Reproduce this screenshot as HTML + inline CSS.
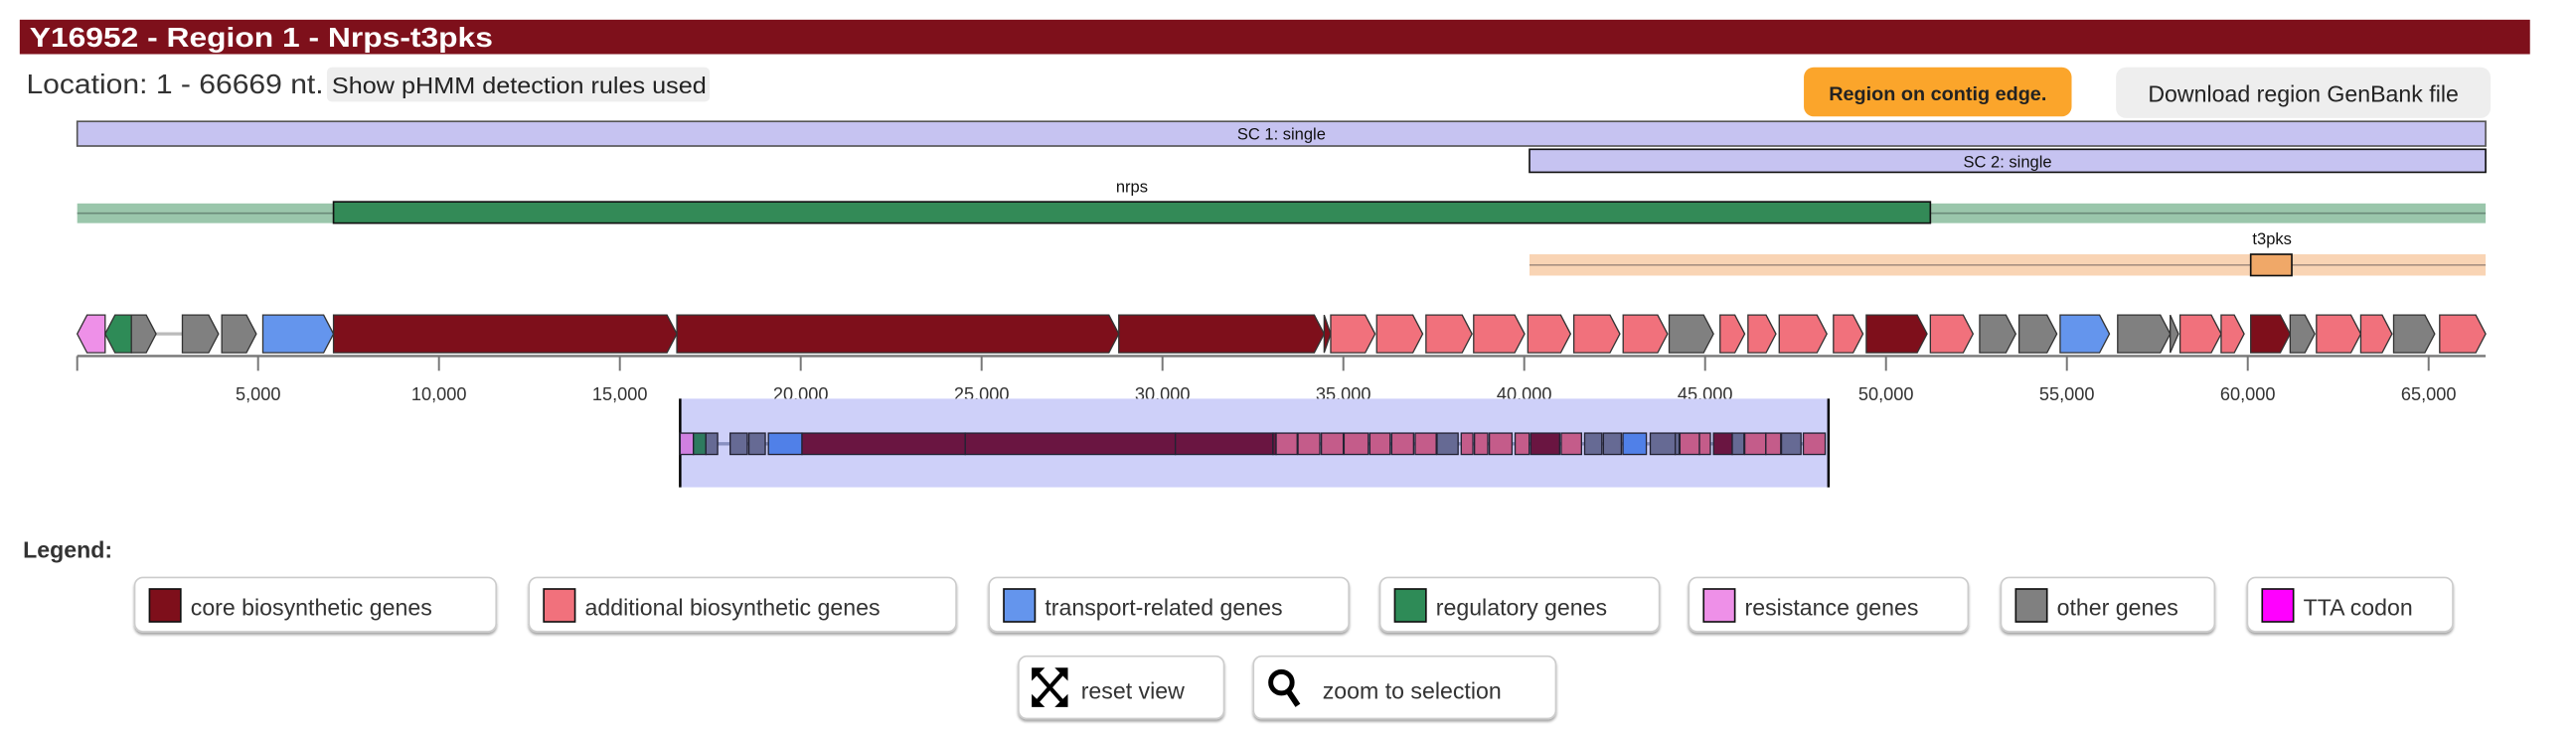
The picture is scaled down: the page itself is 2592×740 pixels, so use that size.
<!DOCTYPE html>
<html><head><meta charset="utf-8"><style>
html,body{margin:0;padding:0;background:#fff;}
svg{display:block;font-family:"Liberation Sans",sans-serif;}
</style></head><body>
<svg width="2592" height="740" viewBox="0 0 1568 448" preserveAspectRatio="none" xmlns="http://www.w3.org/2000/svg">
<defs>
<filter id="sh" x="-5%" y="-10%" width="110%" height="130%"><feDropShadow dx="0" dy="1.5" stdDeviation="0.8" flood-color="#000" flood-opacity="0.35"/></filter>
</defs>
<rect x="12" y="12" width="1528" height="21" fill="#7e101b"/>
<text x="18" y="28.5" font-size="17" font-weight="bold" fill="#fff" textLength="282" lengthAdjust="spacingAndGlyphs">Y16952 - Region 1 - Nrps-t3pks</text>
<text x="16" y="57" font-size="17" fill="#333" textLength="181" lengthAdjust="spacingAndGlyphs">Location: 1 - 66669 nt.</text>
<rect x="199" y="41" width="233" height="21" rx="3" fill="#eeeeee"/>
<text x="202" y="57" font-size="14" fill="#222" textLength="228" lengthAdjust="spacingAndGlyphs">Show pHMM detection rules used</text>
<rect x="1098" y="41" width="163" height="30" rx="6" fill="#fba52b"/>
<text x="1179.5" y="61" font-size="12" font-weight="bold" fill="#222" text-anchor="middle">Region on contig edge.</text>
<rect x="1288" y="41" width="228" height="31" rx="6" fill="#eeeeee"/>
<text x="1402" y="62" font-size="14" fill="#222" text-anchor="middle">Download region GenBank file</text>
<rect x="47" y="74" width="1466" height="15" fill="#c6c3f1" stroke="#555" stroke-width="1"/>
<text x="780" y="85" font-size="10" text-anchor="middle" fill="#111">SC 1: single</text>
<rect x="931" y="91" width="582" height="14" fill="#c6c3f1" stroke="#111" stroke-width="1"/>
<text x="1222" y="102" font-size="10" text-anchor="middle" fill="#111">SC 2: single</text>
<rect x="47" y="124" width="1466" height="12" fill="#9ac6ab"/>
<line x1="47" y1="130" x2="1513" y2="130" stroke="#6a8a78" stroke-width="1"/>
<rect x="203" y="123" width="972" height="13" fill="#338a57" stroke="#111" stroke-width="1"/>
<text x="689" y="117" font-size="10" text-anchor="middle" fill="#111">nrps</text>
<rect x="931" y="155" width="582" height="13" fill="#f9d4b4"/>
<line x1="931" y1="161.5" x2="1513" y2="161.5" stroke="#a89080" stroke-width="1"/>
<rect x="1370" y="155" width="25" height="13" fill="#f0a868" stroke="#111" stroke-width="1"/>
<text x="1383" y="149" font-size="10" text-anchor="middle" fill="#111">t3pks</text>
<g id="genes"></g>
<line x1="47" y1="217" x2="1513" y2="217" stroke="#777" stroke-width="1.5"/>
<g id="ticks" font-size="11" fill="#333" text-anchor="middle"></g>
<rect x="414" y="243" width="699" height="54" fill="#ced0f9"/>
<line x1="414" y1="243" x2="414" y2="297" stroke="#000" stroke-width="1.5"/>
<line x1="1113" y1="243" x2="1113" y2="297" stroke="#000" stroke-width="1.5"/>
<g id="mini"></g>
<text x="14" y="340" font-size="14" font-weight="bold" fill="#333">Legend:</text>
<g font-size="14" fill="#333">
<rect x="82" y="352" width="220" height="33" rx="5" fill="#fff" stroke="#ccc" filter="url(#sh)"/>
<rect x="91" y="359" width="19" height="20" fill="#7e0f1b" stroke="#111"/><text x="116" y="375">core biosynthetic genes</text>
<rect x="322" y="352" width="260" height="33" rx="5" fill="#fff" stroke="#ccc" filter="url(#sh)"/>
<rect x="331" y="359" width="19" height="20" fill="#f1717c" stroke="#111"/><text x="356" y="375">additional biosynthetic genes</text>
<rect x="602" y="352" width="219" height="33" rx="5" fill="#fff" stroke="#ccc" filter="url(#sh)"/>
<rect x="611" y="359" width="19" height="20" fill="#6495ed" stroke="#111"/><text x="636" y="375">transport-related genes</text>
<rect x="840" y="352" width="170" height="33" rx="5" fill="#fff" stroke="#ccc" filter="url(#sh)"/>
<rect x="849" y="359" width="19" height="20" fill="#2e8b57" stroke="#111"/><text x="874" y="375">regulatory genes</text>
<rect x="1028" y="352" width="170" height="33" rx="5" fill="#fff" stroke="#ccc" filter="url(#sh)"/>
<rect x="1037" y="359" width="19" height="20" fill="#ee90e8" stroke="#111"/><text x="1062" y="375">resistance genes</text>
<rect x="1218" y="352" width="130" height="33" rx="5" fill="#fff" stroke="#ccc" filter="url(#sh)"/>
<rect x="1227" y="359" width="19" height="20" fill="#808080" stroke="#111"/><text x="1252" y="375">other genes</text>
<rect x="1368" y="352" width="125" height="33" rx="5" fill="#fff" stroke="#ccc" filter="url(#sh)"/>
<rect x="1377" y="359" width="19" height="20" fill="#ff00ff" stroke="#111"/><text x="1402" y="375">TTA codon</text>
<rect x="620" y="400" width="125" height="38" rx="5" fill="#fff" stroke="#ccc" filter="url(#sh)"/>
<g stroke="#000" stroke-width="2.5" fill="none"><line x1="631" y1="410" x2="647" y2="428"/><line x1="647" y1="410" x2="631" y2="428"/></g>
<g fill="#000"><polygon points="628,407 636,407 628,415"/><polygon points="650,407 642,407 650,415"/><polygon points="628,431 636,431 628,423"/><polygon points="650,431 642,431 650,423"/></g>
<text x="658" y="426">reset view</text>
<rect x="763" y="400" width="184" height="38" rx="5" fill="#fff" stroke="#ccc" filter="url(#sh)"/>
<circle cx="780" cy="416" r="6.5" fill="none" stroke="#000" stroke-width="3"/>
<line x1="784" y1="421" x2="790" y2="430" stroke="#000" stroke-width="3.5"/>
<text x="805" y="426">zoom to selection</text>
</g>
<script>
var C={c:"#7e0f1b",a:"#f1717c",t:"#6495ed",r:"#2e8b57",s:"#ee90e8",o:"#808080"};
var M={c:"#6a1541",a:"#c45c8a",t:"#5080e8",r:"#2e7a5f",s:"#d080e0",o:"#666a94"};
var G=[[47,64,"s",-1],[64,80,"r",-1],[80,95,"o",1],[111,133,"o",1],[135,156,"o",1],[160,203,"t",1],[203,412,"c",1],[412,681,"c",1],[681,806,"c",1],[806,810,"c",1],
[810,837,"a",1],[838,866,"a",1],[868,896,"a",1],[897,928,"a",1],[930,956,"a",1],[958,986,"a",1],[988,1015,"a",1],[1016,1043,"o",1],[1047,1062,"a",1],[1064,1081,"a",1],[1083,1112,"a",1],[1116,1134,"a",1],[1136,1173,"c",1],[1175,1201,"a",1],[1205,1227,"o",1],[1229,1252,"o",1],[1254,1284,"t",1],[1289,1321,"o",1],[1321,1326,"o",1],[1327,1352,"a",1],[1352,1366,"a",1],[1370,1394,"c",1],[1394,1409,"o",1],[1410,1437,"a",1],[1437,1456,"a",1],[1457,1482,"o",1],[1485,1513,"a",1]];
var ns="http://www.w3.org/2000/svg",g=document.getElementById("genes"),m=document.getElementById("mini");
function el(t,a,p){var e=document.createElementNS(ns,t);for(var k in a)e.setAttribute(k,a[k]);p.appendChild(e);return e;}
el("line",{x1:95,y1:203.5,x2:111,y2:203.5,stroke:"#bbb","stroke-width":2},g);
el("line",{x1:414,y1:270.5,x2:1111,y2:270.5,stroke:"#8890c0","stroke-width":2},m);
G.forEach(function(q){var x1=q[0],x2=q[1],y1=192,y2=215,yc=203.5,d=Math.min(6,x2-x1),p;
if(q[3]>0)p=[[x1,y1],[x2-d,y1],[x2,yc],[x2-d,y2],[x1,y2]];else p=[[x1+d,y1],[x2,y1],[x2,y2],[x1+d,y2],[x1,yc]];
el("polygon",{points:p.map(function(a){return a.join(",")}).join(" "),fill:C[q[2]],stroke:"#333","stroke-width":0.8},g);
var a=414+(x1-47)/1466*697,b=414+(x2-47)/1466*697;
el("rect",{x:a,y:264,width:Math.max(b-a,0.5),height:13,fill:M[q[2]],stroke:"#223","stroke-width":0.8},m);});
var t=document.getElementById("ticks");
el("line",{x1:47,y1:217,x2:47,y2:226,stroke:"#777","stroke-width":1.2},t);
for(var k=1;k<=13;k++){var x=47+k*110.1;el("line",{x1:x,y1:217,x2:x,y2:226,stroke:"#777","stroke-width":1.2},t);
var tx=el("text",{x:x,y:244},t);tx.textContent=(k*5)+",000";}
</script>
</svg>
</body></html>
